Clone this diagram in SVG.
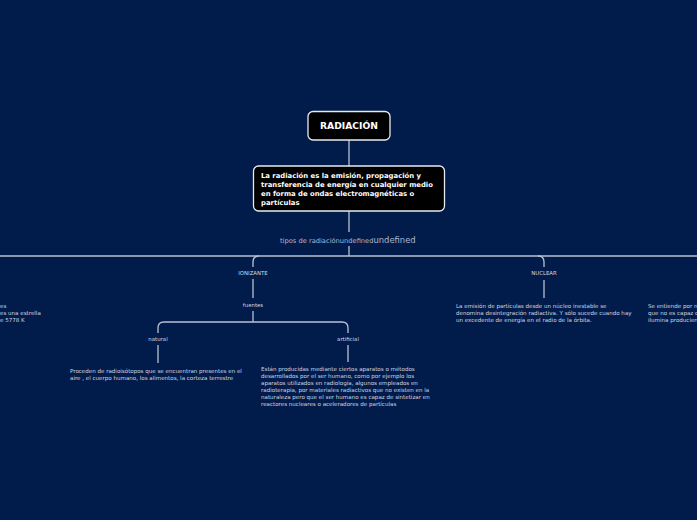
<svg xmlns="http://www.w3.org/2000/svg" width="697" height="520" viewBox="0 0 697 520">
<style>
.box{fill:#000;stroke:#e8eaf0;stroke-width:1.3}
.bt{font-family:"DejaVu Sans",Verdana,sans-serif;font-weight:bold;fill:#fff}
.lbl{font-family:"DejaVu Sans",Verdana,sans-serif;font-size:5.4px;fill:#d2d7e2}
.txt{font-family:"DejaVu Sans",Verdana,sans-serif;font-size:5.55px;fill:#d2d7e2}
.ln{fill:none;stroke:#b9c1d2;stroke-width:1.3}
</style>
<rect width="697" height="520" fill="#011c4b"/>
<g id="connectors">
<path class="ln" d="M349 140V166"/>
<path class="ln" d="M349 211V232"/>
<path class="ln" d="M349 246V256"/>
<path class="ln" d="M0 256H697"/>
<path class="ln" d="M259 256Q253 256 253 262V267"/>
<path class="ln" d="M253 279V298"/>
<path class="ln" d="M253 311V322"/>
<path class="ln" d="M538 256Q544 256 544 262V267"/>
<path class="ln" d="M544 280V298"/>
<path class="ln" d="M164 322Q158 322 158 328V333"/>
<path class="ln" d="M164 322H342Q348 322 348 328V333"/>
<path class="ln" d="M158 345V363"/>
<path class="ln" d="M348 345V362"/>
</g>
<g id="radiacion">
<rect class="box" x="308" y="111.5" width="82" height="28.5" rx="5"/>
<text class="bt" x="349" y="129.3" font-size="9.2" text-anchor="middle">RADIACIÓN</text>
</g>
<g id="definicion">
<rect class="box" x="253.5" y="166" width="191" height="45" rx="5"/>
<text class="bt" font-size="6.85">
<tspan x="261" y="177.5">La radiación es la emisión, propagación y</tspan>
<tspan x="261" y="186.5">transferencia de energía en cualquier medio</tspan>
<tspan x="261" y="195.5">en forma de ondas electromagnéticas o</tspan>
<tspan x="261" y="204.5">partículas</tspan>
</text>
</g>
<g id="tipos">
<text x="280" y="242.5" font-family="DejaVu Sans,Verdana,sans-serif" fill="#aeb7cb"><tspan font-size="6.7">tipos de radiaciónundefined</tspan><tspan font-size="8.4">undefined</tspan></text>
</g>
<g id="ionizante">
<text class="lbl" x="253" y="275" text-anchor="middle">IONIZANTE</text>
</g>
<g id="fuentes">
<text class="lbl" x="253" y="307" text-anchor="middle">fuentes</text>
</g>
<g id="natural">
<text class="lbl" x="158" y="341" text-anchor="middle">natural</text>
<text class="txt"><tspan x="70" y="373">Proceden de radioisótopos que se encuentran presentes en el</tspan><tspan x="70" y="380">aire , el cuerpo humano, los alimentos, la corteza terrestre</tspan></text>
</g>
<g id="artificial">
<text class="lbl" x="348" y="341" text-anchor="middle">artificial</text>
<text class="txt"><tspan x="261" y="371">Están producidas mediante ciertos aparatos o métodos</tspan><tspan x="261" y="378">desarrollados por el ser humano, como por ejemplo los</tspan><tspan x="261" y="385">aparatos utilizados en radiología, algunos empleados en</tspan><tspan x="261" y="392">radioterapia, por materiales radiactivos que no existen en la</tspan><tspan x="261" y="399">naturaleza pero que el ser humano es capaz de sintetizar en</tspan><tspan x="261" y="406">reactores nucleares o aceleradores de partículas</tspan></text>
</g>
<g id="nuclear">
<text class="lbl" x="544" y="275" text-anchor="middle">NUCLEAR</text>
<text class="txt"><tspan x="456" y="308">La emisión de partículas desde un núcleo inestable se</tspan><tspan x="456" y="315">denomina desintegración radiactiva. Y sólo sucede cuando hay</tspan><tspan x="456" y="322">un excedente de energía en el radio de la órbita.</tspan></text>
</g>
<g id="izquierda">
<text class="txt"><tspan x="0" y="308">es</tspan><tspan x="0" y="315">es una estrella</tspan><tspan x="0" y="322">e 5778 K</tspan></text>
</g>
<g id="derecha">
<text class="txt"><tspan x="648" y="308">Se entiende por n</tspan><tspan x="648" y="315">que no es capaz c</tspan><tspan x="648" y="322">ilumina producien</tspan></text>
</g>
</svg>
